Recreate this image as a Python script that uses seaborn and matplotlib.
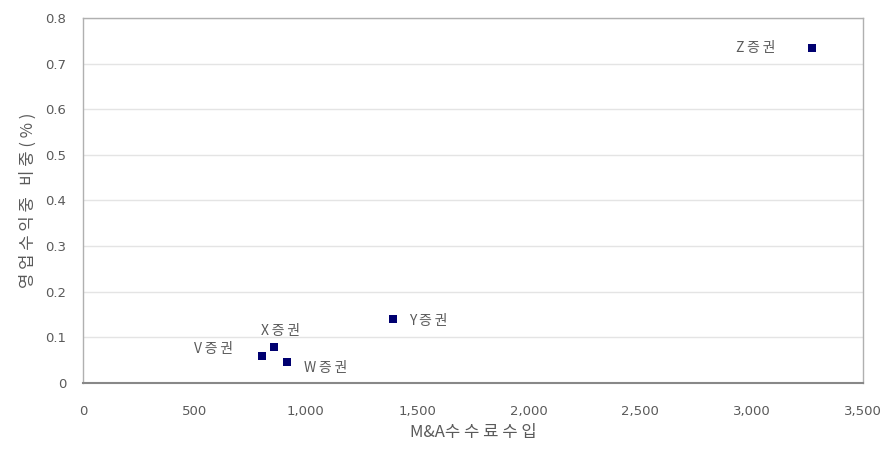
import matplotlib
matplotlib.use("Agg")
import matplotlib.pyplot as plt
import seaborn as sns
import pandas as pd

# Securities firms: M&A fee income vs. share of operating revenue
firms = ["V증권", "X증권", "W증권", "Y증권", "Z증권"]
fee_income = [805, 855, 915, 1390, 3270]
revenue_share = [0.06, 0.078, 0.047, 0.14, 0.735]

x_ticks = [0, 500, 1000, 1500, 2000, 2500, 3000, 3500]
y_ticks = [0, 0.1, 0.2, 0.3, 0.4, 0.5, 0.6, 0.7, 0.8]

x_title_prefix = "M&A"
x_title_main = "수수료수입"
y_title = "영업수익중 비중(%)"

df = pd.DataFrame({"firm": firms, "fee": fee_income, "share": revenue_share})

sns.set_theme(style="white")
plt.rcParams["font.family"] = ["Noto Sans CJK KR", "DejaVu Sans"]

TEXT = "#5a5a5a"


def spaced(s, sep="\u2009"):
    """Open up letter spacing of Korean labels (wide bitmap-style look)."""
    return sep.join(s)


fig = plt.figure(figsize=(8.9, 4.59), dpi=100)
ax = fig.add_axes([0.0933, 0.1656, 0.8764, 0.7952])

for y in y_ticks[1:]:
    ax.axhline(y, color="#e4e4e4", lw=1.0, zorder=0)

sns.scatterplot(data=df, x="fee", y="share", ax=ax, marker="s", s=40,
                color="#000070", edgecolor="#000070", linewidth=0, zorder=3)

# label placement per firm (offset in points, alignment)
offsets = {
    "V증권": (-21, 5, "right"),
    "X증권": (5, 12, "center"),
    "W증권": (12, -5, "left"),
    "Y증권": (12, -1, "left"),
    "Z증권": (-26, 0, "right"),
}
for f, xv, yv in zip(firms, fee_income, revenue_share):
    dx, dy, ha = offsets[f]
    ax.annotate(spaced(f), (xv, yv), xytext=(dx, dy), textcoords="offset points",
                ha=ha, va="center", fontsize=10, color=TEXT)

ax.set_xlim(0, 3500)
ax.set_ylim(0, 0.8)
ax.set_xticks(x_ticks)
ax.set_xticklabels([f"{v:,}" for v in x_ticks], family="DejaVu Sans")
ax.set_yticks(y_ticks)
ax.set_yticklabels(["0"] + [f"{v:.1f}" for v in y_ticks[1:]], family="DejaVu Sans")
ax.tick_params(axis="both", labelsize=9.5, labelcolor=TEXT, length=3,
               color="#aaaaaa", direction="in")
ax.tick_params(axis="x", pad=16)
ax.tick_params(axis="y", pad=12)

for side in ["top", "right", "left"]:
    ax.spines[side].set_color("#b0b0b0")
    ax.spines[side].set_linewidth(1.0)
ax.spines["bottom"].set_color("#888888")
ax.spines["bottom"].set_linewidth(1.5)

ax.set_xlabel(x_title_prefix + spaced(x_title_main, " "), fontsize=12,
              color=TEXT, labelpad=4)
ax.set_ylabel(spaced(y_title, " "), fontsize=12, color=TEXT, labelpad=6)

fig.savefig("out.png", dpi=100, facecolor="white")
